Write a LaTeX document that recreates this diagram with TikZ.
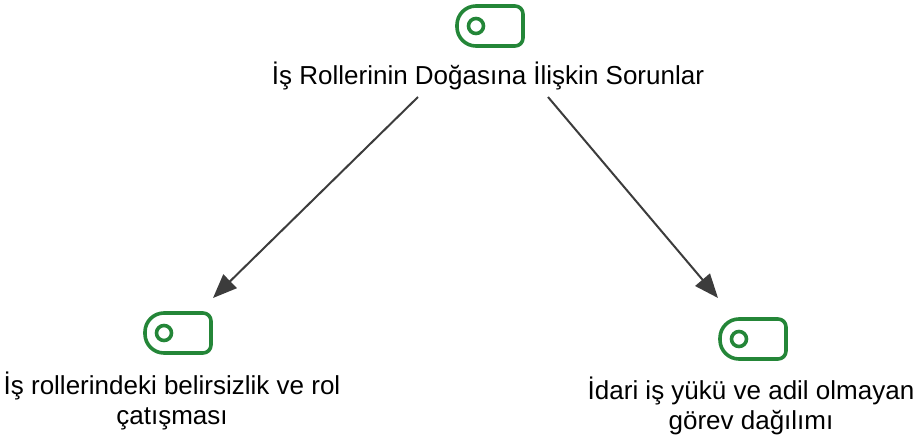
\documentclass[tikz,border=0pt]{standalone}
\usepackage{fontspec}
\setmainfont{Liberation Sans}
\usetikzlibrary{arrows.meta}
\definecolor{icongreen}{RGB}{36,134,56}
\definecolor{linkgray}{RGB}{60,60,60}
\tikzset{
  iconbox/.style={draw=none, minimum width=66pt, minimum height=40pt, inner sep=0pt},
  label/.style={font=\fontsize{26}{30}\selectfont, align=center, inner sep=0pt, text=black},
  link/.style={draw=linkgray, line width=2pt, -{Triangle[length=24pt,width=19pt]}},
  tagicon/.pic={
    \draw[icongreen, line width=3.6pt, line join=round]
      (-14,-20) -- (25,-20) arc[start angle=-90, end angle=0, radius=8]
      -- (33,12) arc[start angle=0, end angle=90, radius=8]
      -- (-14,20) arc[start angle=90, end angle=180, radius=19]
      -- (-33,-1) arc[start angle=180, end angle=270, radius=19] -- cycle;
    \draw[icongreen, line width=3.6pt] (-14,0) circle[radius=7.5];
  }
}
\begin{document}
\begin{tikzpicture}[x=1pt, y=-1pt]
  \useasboundingbox (0,0) rectangle (918,439);

  % root topic
  \node[iconbox] (rooticon) at (490,26) {};
  \pic at (rooticon) {tagicon};
  \node[label, anchor=base] (root) at (488,84) {İş Rollerinin Doğasına İlişkin Sorunlar};

  % left child
  \node[iconbox] (lefticon) at (178,333) {};
  \pic at (lefticon) {tagicon};
  \node[label, anchor=north] (left) at (172,372) {İş rollerindeki belirsizlik ve rol\\çatışması};

  % right child
  \node[iconbox] (righticon) at (753,339) {};
  \pic at (righticon) {tagicon};
  \node[label, anchor=north] (right) at (751,377) {İdari iş yükü ve adil olmayan\\görev dağılımı};

  % link end points
  \coordinate (rootL) at (418,97);
  \coordinate (rootR) at (548,97);
  \coordinate (leftTip) at (213,298);
  \coordinate (rightTip) at (718,298);

  \draw[link] (rootL) -- (leftTip);
  \draw[link] (rootR) -- (rightTip);
\end{tikzpicture}
\end{document}
